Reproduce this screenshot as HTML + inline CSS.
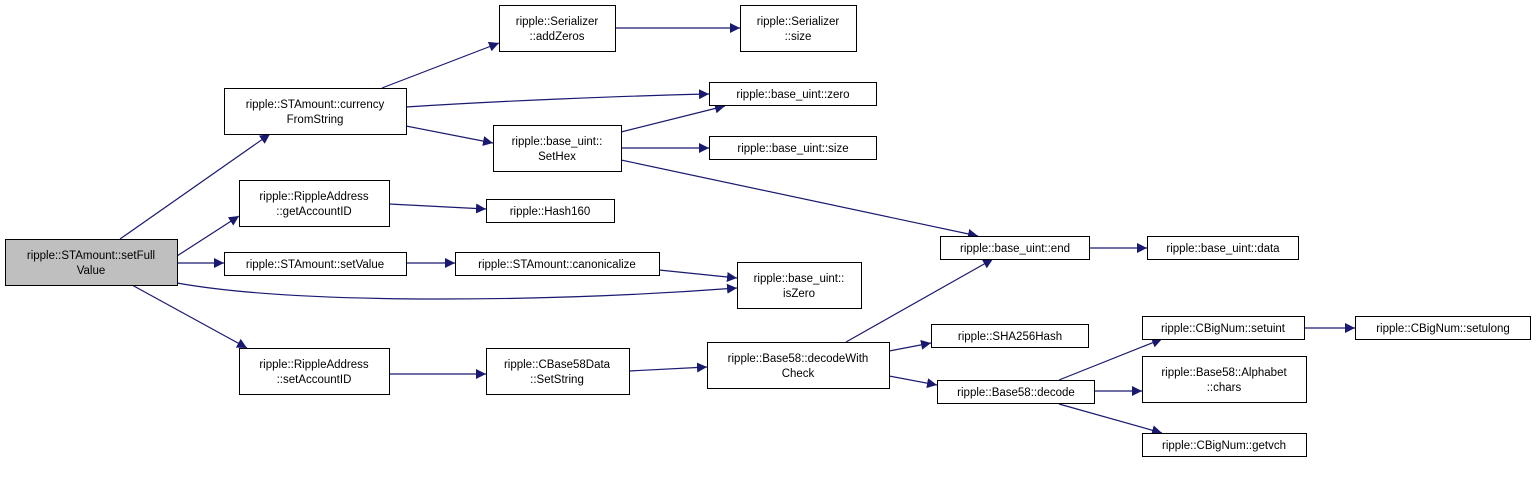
<!DOCTYPE html>
<html><head><style>body{margin:0;background:#fff}svg text{font-family:"Liberation Sans",sans-serif;font-size:11.5px;fill:#000}</style></head><body>
<svg width="1536" height="472" viewBox="0 0 1536 472" xmlns="http://www.w3.org/2000/svg">
<defs><marker id="a" viewBox="0 0 10 10" refX="10" refY="5" markerWidth="10" markerHeight="10" markerUnits="userSpaceOnUse" orient="auto"><path d="M0,0L10,5L0,10z" fill="#191970"/></marker></defs>
<g stroke="#191970" stroke-width="1.2" fill="none" marker-end="url(#a)">
<path d="M120,239L270,134"/>
<path d="M177,256L239,216"/>
<path d="M177,263L224,263"/>
<path d="M132,285L247,348"/>
<path d="M177,283C300,305 550,302 737,288"/>
<path d="M382,88L499,43"/>
<path d="M406,107C500,101 620,96 709,94"/>
<path d="M406,126L493,143"/>
<path d="M389,204L486,209"/>
<path d="M406,263L455,263"/>
<path d="M389,374L486,374"/>
<path d="M615,28L740,28"/>
<path d="M621,132L725,106"/>
<path d="M621,148L709,148"/>
<path d="M621,160L978,236"/>
<path d="M659,270L737,278"/>
<path d="M629,371L707,367"/>
<path d="M846,342L993,259"/>
<path d="M889,351L931,343"/>
<path d="M889,376L937,385"/>
<path d="M1089,248L1147,248"/>
<path d="M1059,380L1162,339"/>
<path d="M1094,391L1142,391"/>
<path d="M1059,404L1162,433"/>
<path d="M1304,328L1355,328"/>
</g>
<g stroke="#000" stroke-width="1" fill="#fff">
<rect x="5.5" y="239.5" width="172" height="46" fill="#bfbfbf"/>
<rect x="224.5" y="88.5" width="182" height="46"/>
<rect x="239.5" y="180.5" width="150" height="46"/>
<rect x="224.5" y="252.5" width="182" height="23"/>
<rect x="239.5" y="348.5" width="150" height="46"/>
<rect x="499.5" y="5.5" width="116" height="46"/>
<rect x="493.5" y="125.5" width="128" height="46"/>
<rect x="486.5" y="199.5" width="128" height="23"/>
<rect x="455.5" y="252.5" width="204" height="23"/>
<rect x="486.5" y="348.5" width="143" height="46"/>
<rect x="740.5" y="5.5" width="116" height="46"/>
<rect x="709.5" y="82.5" width="167" height="23"/>
<rect x="709.5" y="136.5" width="167" height="23"/>
<rect x="737.5" y="262.5" width="124" height="46"/>
<rect x="940.5" y="236.5" width="149" height="23"/>
<rect x="1147.5" y="236.5" width="151" height="23"/>
<rect x="707.5" y="342.5" width="182" height="46"/>
<rect x="931.5" y="324.5" width="157" height="23"/>
<rect x="937.5" y="380.5" width="157" height="23"/>
<rect x="1142.5" y="316.5" width="162" height="23"/>
<rect x="1355.5" y="316.5" width="175" height="23"/>
<rect x="1142.5" y="356.5" width="164" height="46"/>
<rect x="1142.5" y="433.5" width="164" height="23"/>
</g>
<g text-anchor="middle">
<text x="91" y="259">ripple::STAmount::setFull</text><text x="91" y="274">Value</text>
<text x="315" y="108">ripple::STAmount::currency</text><text x="315" y="123">FromString</text>
<text x="314" y="200">ripple::RippleAddress</text><text x="314" y="215">::getAccountID</text>
<text x="315" y="268">ripple::STAmount::setValue</text>
<text x="314" y="368">ripple::RippleAddress</text><text x="314" y="383">::setAccountID</text>
<text x="557" y="25">ripple::Serializer</text><text x="557" y="40">::addZeros</text>
<text x="557" y="145">ripple::base_uint::</text><text x="557" y="160">SetHex</text>
<text x="550" y="215">ripple::Hash160</text>
<text x="557" y="268">ripple::STAmount::canonicalize</text>
<text x="557" y="368">ripple::CBase58Data</text><text x="557" y="383">::SetString</text>
<text x="798" y="25">ripple::Serializer</text><text x="798" y="40">::size</text>
<text x="793" y="98">ripple::base_uint::zero</text>
<text x="793" y="152">ripple::base_uint::size</text>
<text x="799" y="282">ripple::base_uint::</text><text x="799" y="297">isZero</text>
<text x="1015" y="252">ripple::base_uint::end</text>
<text x="1223" y="252">ripple::base_uint::data</text>
<text x="798" y="362">ripple::Base58::decodeWith</text><text x="798" y="377">Check</text>
<text x="1010" y="340">ripple::SHA256Hash</text>
<text x="1016" y="396">ripple::Base58::decode</text>
<text x="1223" y="332">ripple::CBigNum::setuint</text>
<text x="1443" y="332">ripple::CBigNum::setulong</text>
<text x="1224" y="376">ripple::Base58::Alphabet</text><text x="1224" y="391">::chars</text>
<text x="1224" y="449">ripple::CBigNum::getvch</text>
</g>
</svg>
</body></html>
